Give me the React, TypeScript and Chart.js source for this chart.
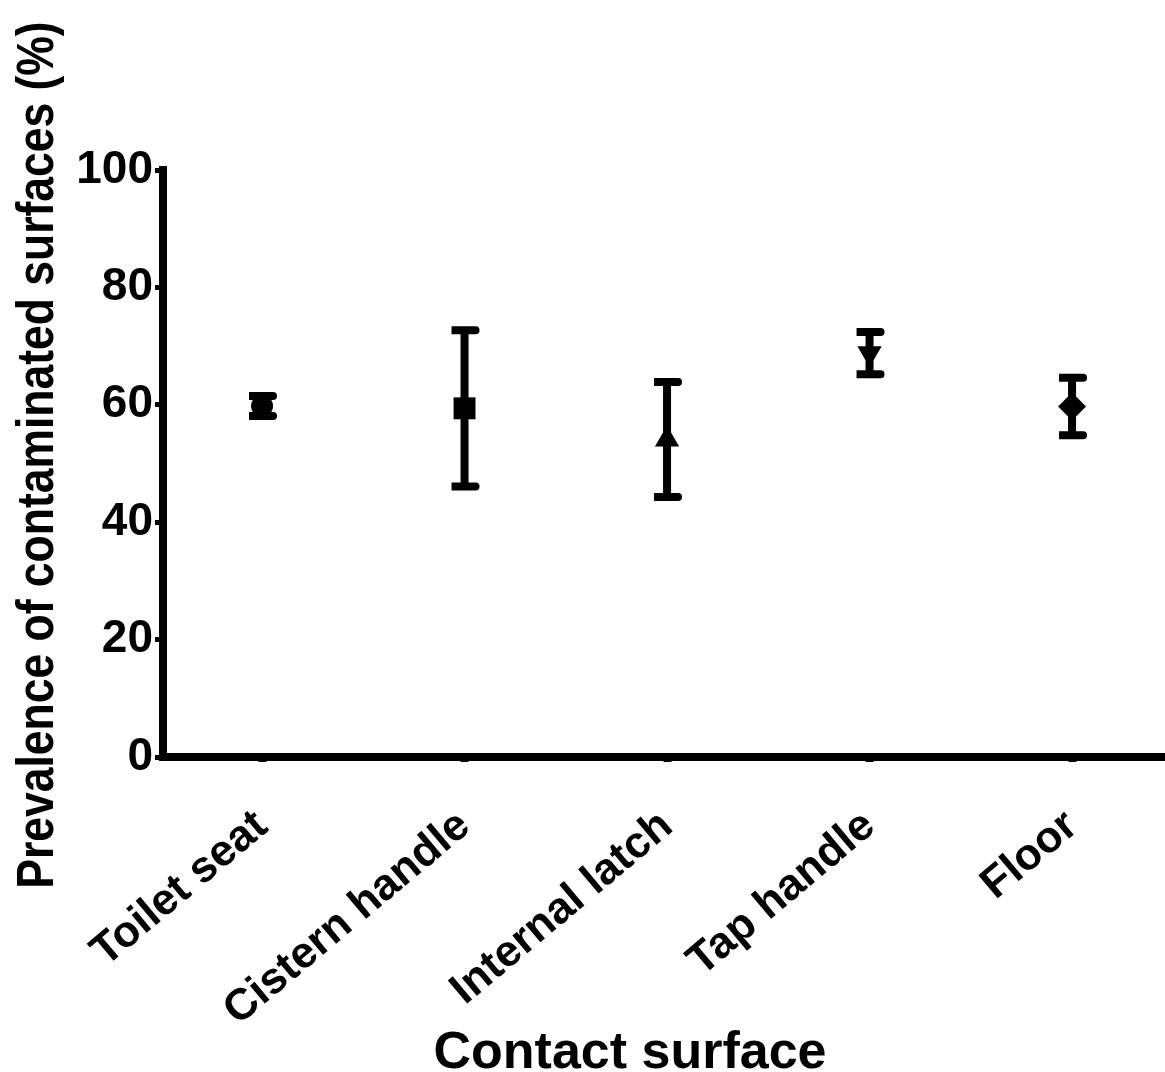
import React, { useEffect, useRef } from "react";
import { Chart, registerables } from "chart.js";

Chart.register(...registerables);

const categories = ["Toilet seat", "Cistern handle", "Internal latch", "Tap handle", "Floor"];
const means = [59.8, 59.4, 54.1, 68.8, 59.7];
const errors = [1.7, 13.3, 9.8, 3.6, 4.9];
const markerStyles = ["circle", "rect", "triangle", "triangle", "rectRot"];
const markerRotations = [0, 0, 0, 180, 0];
const markerRadii = [11, 15.5, 14, 14, 14];
const yTicks = [0, 20, 40, 60, 80, 100];

const yTitle = "Prevalence of contaminated surfaces (%)";
const xTitle = "Contact surface";

const BOLD = "'Liberation Sans', Arial, sans-serif";

const errorBarPlugin = {
  id: "errorBars",
  beforeDatasetsDraw(chart: any) {
    const { ctx, scales } = chart;
    const x = scales.x;
    const y = scales.y;
    ctx.save();
    ctx.fillStyle = "#000";
    means.forEach((m, i) => {
      const px = x.getPixelForValue(i);
      const top = y.getPixelForValue(m + errors[i]);
      const bot = y.getPixelForValue(m - errors[i]);
      ctx.fillRect(px - 4, top, 8, bot - top);
      [top, bot].forEach((cy) => {
        ctx.beginPath();
        ctx.rect(px - 13, cy - 4, 24, 8);
        ctx.arc(px + 11, cy, 4, -Math.PI / 2, Math.PI / 2);
        ctx.fill();
      });
    });
    ctx.restore();
  },
};

const titlesPlugin = {
  id: "axisTitles",
  afterDraw(chart: any) {
    const { ctx } = chart;
    ctx.save();
    ctx.fillStyle = "#000";
    ctx.font = `bold 52px ${BOLD}`;
    ctx.textAlign = "center";
    ctx.textBaseline = "alphabetic";
    ctx.fillText(xTitle, 630, 1068);
    ctx.restore();

    ctx.save();
    ctx.fillStyle = "#000";
    ctx.font = `bold 52px ${BOLD}`;
    ctx.textAlign = "center";
    ctx.textBaseline = "alphabetic";
    ctx.translate(53, 455);
    ctx.rotate(-Math.PI / 2);
    ctx.scale(0.855, 1);
    ctx.fillText(yTitle, 0, 0);
    ctx.restore();
  },
};

export default function App() {
  const ref = useRef<HTMLCanvasElement | null>(null);
  useEffect(() => {
    document.body.style.margin = "0";
    if (!ref.current) return;
    const chart = new Chart(ref.current, {
      type: "scatter",
      data: {
        datasets: [
          {
            data: means.map((m, i) => ({ x: i, y: m })),
            pointStyle: markerStyles as any,
            rotation: markerRotations,
            pointRadius: markerRadii,
            pointHoverRadius: markerRadii,
            backgroundColor: "#000",
            borderColor: "#000",
            borderWidth: 0,
            showLine: false,
          },
        ],
      },
      plugins: [errorBarPlugin, titlesPlugin],
      options: {
        responsive: false,
        animation: false,
        layout: { autoPadding: false, padding: { top: 170, left: 0, right: 0, bottom: 0 } },
        plugins: { legend: { display: false }, tooltip: { enabled: false } },
        scales: {
          x: {
            type: "linear",
            min: -0.489,
            max: 4.459,
            afterBuildTicks: (axis: any) => {
              axis.ticks = categories.map((_, i) => ({ value: i }));
            },
            afterFit: (axis: any) => {
              axis.height = 315;
              axis.paddingLeft = 0;
              axis.paddingRight = 0;
            },
            grid: {
              display: true,
              drawOnChartArea: false,
              drawTicks: true,
              tickLength: 5,
              tickWidth: 8,
              tickColor: "#000",
            },
            border: { display: true, width: 8, color: "#000" },
            ticks: {
              autoSkip: false,
              maxRotation: 40,
              minRotation: 40,
              padding: 38,
              color: "#000",
              font: { family: BOLD, size: 44, weight: "bold" },
              callback: (v: any) => categories[v as number] ?? "",
            },
          },
          y: {
            type: "linear",
            min: 0,
            max: 100,
            afterBuildTicks: (axis: any) => {
              axis.ticks = yTicks.map((v) => ({ value: v }));
            },
            afterFit: (axis: any) => {
              axis.width = 163;
            },
            grid: {
              display: true,
              drawOnChartArea: false,
              drawTicks: true,
              tickLength: 8,
              tickWidth: 5,
              tickColor: "#000",
            },
            border: { display: true, width: 8, color: "#000" },
            ticks: {
              padding: 2,
              color: "#000",
              font: { family: BOLD, size: 46, weight: "bold" },
            },
          },
        },
      },
    });
    return () => chart.destroy();
  }, []);
  return <canvas ref={ref} width={1165} height={1072} style={{ display: "block" }} />;
}
